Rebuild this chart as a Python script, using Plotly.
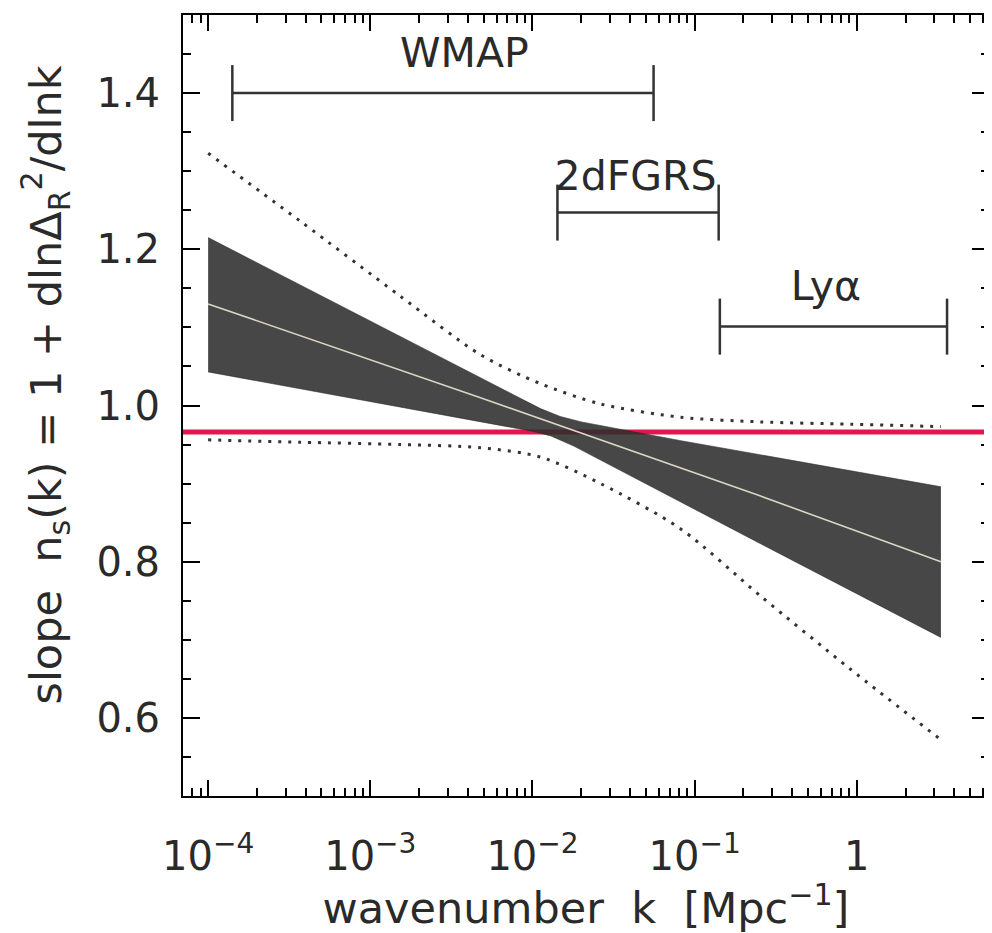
import plotly.graph_objects as go

# ---------------- data ----------------
# shaded 1-sigma band of n_s(k): upper and lower edges
k_band_up = [1e-4, 4.78e-3, 1.12e-2, 1.48e-2, 2.0e-2, 8.2e-2, 3.30]
band_upper = [1.215, 1.035, 0.996, 0.986, 0.979, 0.955, 0.896]
k_band_lo = [1e-4, 4.78e-3, 1.0e-2, 1.3e-2, 1.8e-2, 0.255, 3.30]
band_lower = [1.043, 0.979, 0.967, 0.961, 0.948, 0.823, 0.703]

# best-fit (centre) line
k_center = [1e-4, 4.78e-3, 0.255, 3.30]
ns_center = [1.130, 1.010, 0.884, 0.800]

# dotted 2-sigma curves
k_dot = [1e-4, 3.7e-4, 1.53e-3, 4.78e-3, 1.12e-2, 2.63e-2, 8.2e-2, 0.255, 0.918, 3.30]
dot_upper = [1.323, 1.236, 1.140, 1.065, 1.028, 1.002, 0.985, 0.979, 0.976, 0.973]
dot_lower = [0.956, 0.953, 0.950, 0.946, 0.934, 0.900, 0.842, 0.756, 0.662, 0.572]

# reference value (red line)
ns_ref = 0.966

# k ranges probed by each data set
survey_names = ["WMAP", "2dFGRS", "Lyα"]
survey_kmin = [1.41e-4, 1.425e-2, 0.143]
survey_kmax = [5.58e-2, 0.1406, 3.6]
survey_y = [1.400, 1.247, 1.101]
label_k = [3.8e-3, 4.32e-2, 0.644]
label_y = [1.447, 1.289, 1.148]

# axis ticks
x_tickvals = [1e-4, 1e-3, 1e-2, 1e-1, 1]
x_ticktext = ["10<sup>−4</sup>", "10<sup>−3</sup>", "10<sup>−2</sup>", "10<sup>−1</sup>", "1"]
y_tickvals = [0.6, 0.8, 1.0, 1.2, 1.4]
y_ticktext = ["0.6", "0.8", "1.0", "1.2", "1.4"]

x_title = "wavenumber  k  [Mpc<sup>−1</sup>]"
y_title = "slope  n<sub>s</sub>(k) = 1 + dlnΔ<sub>R</sub><sup>2</sup>/dlnk"

# ---------------- figure ----------------
FONT = "DejaVu Sans"
INK = "#2a2a2a"
LINE = "#333333"
EDGE = "rgba(35,35,35,0.9)"

fig = go.Figure()

# band: lower edge, then upper edge filled down to it
fig.add_trace(go.Scatter(
    x=k_band_lo, y=band_lower, mode="lines",
    line=dict(width=0.6, color=EDGE),
    hoverinfo="skip", showlegend=False))
fig.add_trace(go.Scatter(
    x=k_band_up, y=band_upper, mode="lines", fill="tonexty",
    fillcolor="rgba(45,45,45,0.88)",
    line=dict(width=0.6, color=EDGE),
    hoverinfo="skip", showlegend=False))

# centre line
fig.add_trace(go.Scatter(
    x=k_center, y=ns_center, mode="lines",
    line=dict(color="#d9d6c4", width=1.6), showlegend=False))

# dotted curves
for yy in (dot_upper, dot_lower):
    fig.add_trace(go.Scatter(
        x=k_dot, y=yy, mode="lines",
        line=dict(color=LINE, width=3, dash="3px,7px", shape="spline", smoothing=0.8),
        showlegend=False))

# survey ranges
for name, k0, k1, yv in zip(survey_names, survey_kmin, survey_kmax, survey_y):
    fig.add_trace(go.Scatter(
        x=[k0, k1], y=[yv, yv], mode="lines+markers",
        line=dict(color=LINE, width=2.5),
        marker=dict(symbol="line-ns", size=40,
                    line=dict(color=LINE, width=2.5)),
        showlegend=False))

fig.add_trace(go.Scatter(
    x=label_k, y=label_y, mode="text", text=survey_names,
    textfont=dict(family=FONT, size=41, color=INK),
    showlegend=False))

# red reference line
fig.add_hline(y=ns_ref, line=dict(color="#e3164f", width=5), layer="below")

minor_x = [m * 10.0 ** e for e in range(-5, 1) for m in range(2, 10)]

fig.update_xaxes(
    type="log", range=[-4.155, 0.815], automargin=False,
    tickmode="array", tickvals=x_tickvals, ticktext=x_ticktext,
    ticks="inside", ticklen=16, tickwidth=2, tickcolor="black",
    minor=dict(tickmode="array", tickvals=minor_x, ticks="inside",
               ticklen=8, tickwidth=1.5, tickcolor="black", showgrid=False),
    showline=True, linecolor="black", linewidth=2, mirror="allticks",
    showgrid=False, zeroline=False,
    tickfont=dict(family=FONT, size=40, color=INK),
    ticklabelstandoff=24,
    title=dict(text=x_title, font=dict(family=FONT, size=43, color=INK), standoff=0))

fig.update_yaxes(
    range=[0.5, 1.5], automargin=False,
    tickmode="array", tickvals=y_tickvals, ticktext=y_ticktext,
    ticks="inside", ticklen=17, tickwidth=2, tickcolor="black",
    minor=dict(dtick=0.05, tick0=0.5, ticks="inside",
               ticklen=8, tickwidth=1.5, tickcolor="black", showgrid=False),
    showline=True, linecolor="black", linewidth=2, mirror="allticks",
    showgrid=False, zeroline=False,
    tickfont=dict(family=FONT, size=40, color=INK),
    ticklabelstandoff=13)

fig.add_annotation(
    text=y_title, textangle=-90, showarrow=False,
    xref="paper", yref="paper", x=0, y=0.5,
    xanchor="center", yanchor="middle", xshift=-138, yshift=20,
    font=dict(family=FONT, size=43, color=INK))

# the page body adds an 8 px offset, so the figure is sized 8 px smaller
fig.update_layout(
    width=984, height=925,
    margin=dict(l=175, r=3, t=7, b=137),
    paper_bgcolor="white", plot_bgcolor="white",
    showlegend=False)

fig.write_html("out.html")
